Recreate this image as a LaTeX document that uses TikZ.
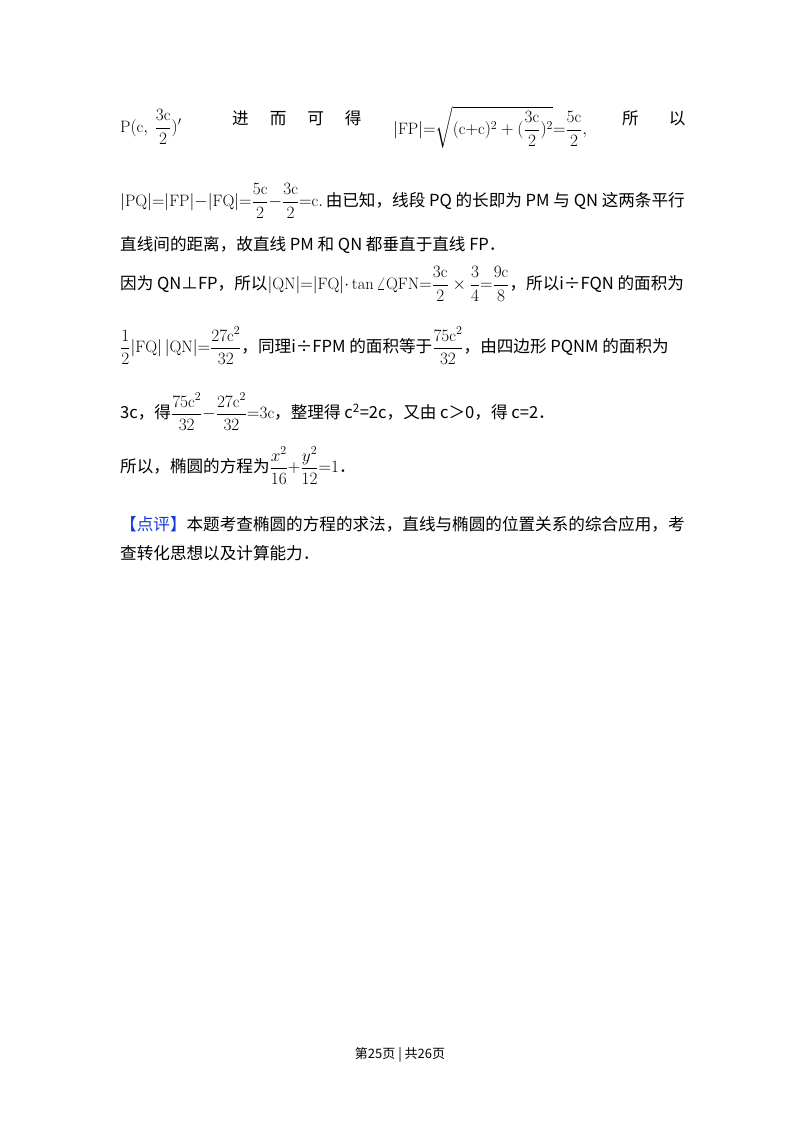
\documentclass[tikz,border=0pt]{standalone}
\usepackage{amsmath}
\usepackage{fontspec}
\setmainfont{Noto Sans CJK SC}
\setmathrm{Latin Modern Roman}
\newcommand{\mm}[1]{{\fontsize{16.5}{19}\selectfont$\displaystyle #1$}}
\begin{document}
\begin{tikzpicture}[x=1pt,y=-1pt,
  t/.style={anchor=west,inner sep=0pt,font=\fontsize{16.6}{19}\selectfont}]
\useasboundingbox[fill=white] (0,0) rectangle (800,1132);
\node[t] (a1) at (120,127) {\mm{\mathrm{P}(\mathrm{c},\ \frac{3\mathrm{c}}{2})'}};
\node[t] (a2) at (232,118) {进\hspace{21pt}而\hspace{21pt}可\hspace{21pt}得};
\node[t] (a3) at (393,127) {\mm{|\mathrm{FP}|{=}\sqrt{(\mathrm{c{+}c})^{2}+(\frac{3\mathrm{c}}{2})^{2}}{=}\frac{5\mathrm{c}}{2},}};
\node[t] (a4) at (622,118) {所\hspace{30pt}以};
\node[t] (b) at (120,201) {\mm{|\mathrm{PQ}|{=}|\mathrm{FP}|{-}|\mathrm{FQ}|{=}\frac{5\mathrm{c}}{2}{-}\frac{3\mathrm{c}}{2}{=}\mathrm{c}.}\,由已知，线段 PQ 的长即为 PM 与 QN 这两条平行};
\node[t] (c) at (120,245) {直线间的距离，故直线 PM 和 QN 都垂直于直线 FP．};
\node[t] (d) at (120,284) {因为 QN⊥FP，所以\mm{|\mathrm{QN}|{=}|\mathrm{FQ}|{\cdot}\tan\angle\mathrm{QFN}{=}\frac{3\mathrm{c}}{2}\times\frac{3}{4}{=}\frac{9\mathrm{c}}{8}}，所以i÷FQN 的面积为};
\node[t] (e) at (120,346) {\mm{\frac{1}{2}|\mathrm{FQ}|\,|\mathrm{QN}|{=}\frac{27\mathrm{c}^{2}}{32}}，同理i÷FPM 的面积等于\mm{\frac{75\mathrm{c}^{2}}{32}}，由四边形 PQNM 的面积为};
\node[t] (f) at (120,412) {3c，得\mm{\frac{75\mathrm{c}^{2}}{32}{-}\frac{27\mathrm{c}^{2}}{32}{=}3\mathrm{c}}，整理得 c\textsuperscript{2}=2c，又由 c＞0，得 c=2．};
\node[t] (g) at (120,466) {所以，椭圆的方程为\mm{\frac{x^{2}}{16}{+}\frac{y^{2}}{12}{=}1}．};
\node[t] (h) at (120,524) {\textcolor[RGB]{20,60,220}{【点评】}本题考查椭圆的方程的求法，直线与椭圆的位置关系的综合应用，考};
\node[t] (i) at (120,553) {查转化思想以及计算能力．};
\node[inner sep=0pt,font=\fontsize{13}{15}\selectfont] (ft) at (400,1055) {第25页 | 共26页};
\end{tikzpicture}
\end{document}
